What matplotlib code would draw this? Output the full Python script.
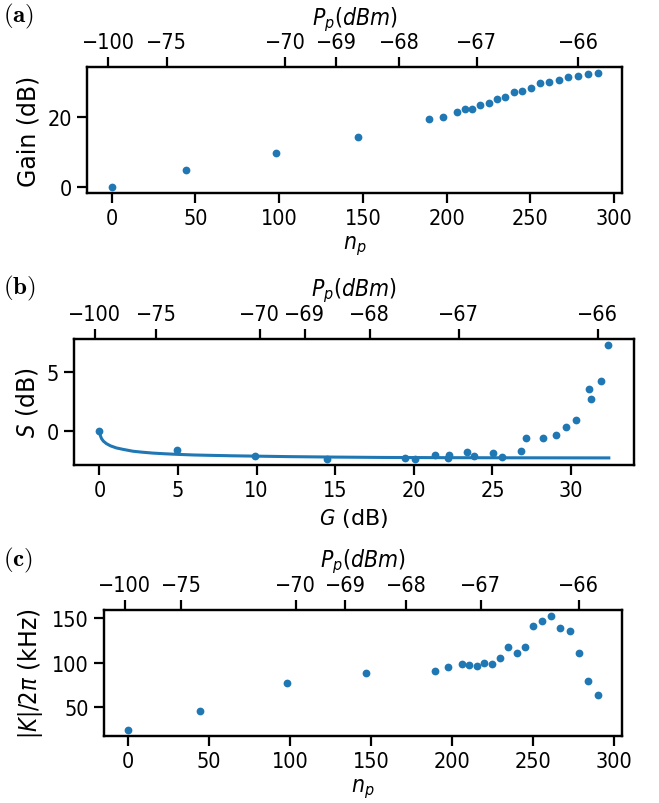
#!/usr/bin/env python3
"""Gain, squeezing and Kerr vs pump photon number (three stacked panels)."""

import matplotlib

matplotlib.use("Agg")
import matplotlib.pyplot as plt

# ---- data ----
n_p = [0, 44.5, 98, 147, 189.5, 197.8, 206.2, 210.8, 215.4, 220.1, 225.0, 229.9,
       234.8, 240.1, 245.1, 250.3, 255.8, 261.2, 266.9, 272.7, 278.4, 284.3, 290.3]
gain_db = [0, 4.98, 9.86, 14.37, 19.43, 20.11, 21.54, 22.2, 22.4, 23.5, 23.9, 25.1,
           25.7, 26.97, 27.26, 28.29, 29.6, 29.9, 30.5, 31.26, 31.54, 32.1, 32.49]

g_meas = [0, 4.94, 9.87, 14.5, 19.46, 20.1, 21.35, 22.26, 22.2, 23.4, 23.8, 25.03,
          25.6, 26.8, 27.13, 28.2, 29.03, 29.7, 30.3, 31.13, 31.28, 31.9, 32.36]
s_meas = [-0.06, -1.68, -2.13, -2.39, -2.30, -2.42, -2.07, -2.07, -2.33, -1.85, -2.16,
          -1.88, -2.25, -1.70, -0.60, -0.65, -0.40, 0.28, 0.88, 3.55, 2.70, 4.24, 7.33]

# theory curve, sampled by eye along the drawn line
g_model = [0, 0.05, 0.13, 0.25, 0.44, 0.7, 1.08, 1.5, 2.13, 2.7, 3.4, 4.2, 5.0, 6.0,
           7.0, 8.5, 10.0, 12.0, 15.0, 18.0, 22.0, 26.0, 32.4]
s_model = [-0.06, -0.4, -0.68, -0.9, -1.11, -1.3, -1.48, -1.6, -1.76, -1.84, -1.92,
           -1.98, -2.03, -2.08, -2.11, -2.15, -2.18, -2.22, -2.26, -2.29, -2.31, -2.32,
           -2.33]

kerr_khz = [24.2, 45.1, 77.3, 88.2, 91.1, 95.6, 98.3, 97.9, 96.1, 100.1, 98.3, 105.7,
            118.1, 110.7, 117.8, 141.7, 147.3, 152.9, 138.8, 135.4, 110.7, 79.6, 63.8]

pump_labels = ["\u2212100", "\u221275", "\u221270", "\u221269", "\u221268", "\u221267",
               "\u221266"]
pump_at_np = [-2, 33, 103.6, 134.2, 171.7, 217.8, 278.4]
pump_at_gain = [-0.3, 3.6, 10.2, 13.05, 17.2, 22.85, 31.7]

BLUE = "#1f77b4"
FS = 15.5

# narrower glyphs if a condensed DejaVu is installed, else plain DejaVu Sans
plt.rcParams["font.family"] = ["DejaVu Sans"]
plt.rcParams["font.stretch"] = "condensed"


def style_axis(ax):
    for sp in ax.spines.values():
        sp.set_linewidth(1.6)
    ax.tick_params(direction="out", length=7, width=1.6, labelsize=FS, pad=4)


def set_ylabel(ax, text):
    ax.set_ylabel(text, fontsize=17, fontstretch="normal", labelpad=5)


def add_top(ax, positions):
    top = ax.twiny()
    top.set_xlim(ax.get_xlim())
    top.set_xticks(positions)
    top.set_xticklabels(pump_labels)
    top.set_xlabel("$P_p(dBm)$", fontsize=16.5, labelpad=6)
    style_axis(top)
    return top


def panel_label(fig, y, text):
    fig.text(0.004, y, text, fontsize=18, math_fontfamily="cm",
             ha="left", va="center")


def main() -> None:
    fig = plt.figure(figsize=(6.59, 8.04), dpi=100)

    # (a) gain vs n_p
    ax_a = fig.add_axes([0.1325, 0.7587, 0.8118, 0.1563])
    ax_a.plot(n_p, gain_db, "o", color=BLUE, ms=5.6, mec="none")
    ax_a.set_xticks([0, 50, 100, 150, 200, 250, 300])
    ax_a.set_yticks([0, 20])
    ax_a.set_xlabel("$n_p$", fontsize=16.5)
    set_ylabel(ax_a, "Gain (dB)")
    style_axis(ax_a)
    add_top(ax_a, pump_at_np)
    panel_label(fig, 0.979, r"$\mathbf{(a)}$")

    # (b) squeezing vs gain
    ax_b = fig.add_axes([0.1123, 0.4208, 0.8502, 0.1563])
    ax_b.plot(g_model, s_model, "-", color=BLUE, lw=2.2)
    ax_b.plot(g_meas, s_meas, "o", color=BLUE, ms=5.6, mec="none")
    ax_b.set_xticks([0, 5, 10, 15, 20, 25, 30])
    ax_b.set_yticks([0, 5])
    ax_b.set_xlabel("$G$ (dB)", fontsize=16, fontstretch="normal")
    set_ylabel(ax_b, "$S$ (dB)")
    style_axis(ax_b)
    add_top(ax_b, pump_at_gain)
    panel_label(fig, 0.641, r"$\mathbf{(b)}$")

    # (c) Kerr vs n_p
    ax_c = fig.add_axes([0.1583, 0.0837, 0.7851, 0.1563])
    ax_c.plot(n_p, kerr_khz, "o", color=BLUE, ms=5.6, mec="none")
    ax_c.set_xticks([0, 50, 100, 150, 200, 250, 300])
    ax_c.set_yticks([50, 100, 150])
    ax_c.set_xlabel("$n_p$", fontsize=16.5)
    set_ylabel(ax_c, r"$|K|/2\pi$ (kHz)")
    style_axis(ax_c)
    add_top(ax_c, pump_at_np)
    panel_label(fig, 0.303, r"$\mathbf{(c)}$")

    fig.savefig("out.png", dpi=100)
    plt.close(fig)


if __name__ == "__main__":
    main()
